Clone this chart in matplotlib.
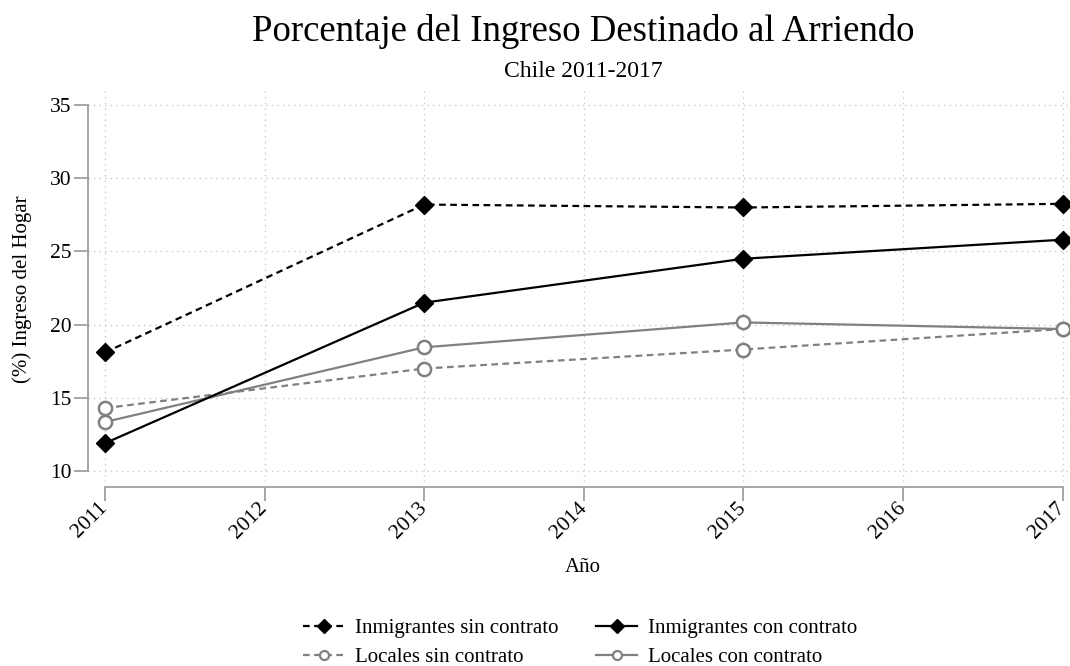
import numpy as np
import matplotlib.pyplot as plt
from matplotlib.lines import Line2D

plt.rcParams['font.family'] = ['Liberation Serif', 'DejaVu Serif']

# datos
anios = [2011, 2013, 2015, 2017]
inm_sin = [18.1, 28.2, 28.0, 28.25]
inm_con = [11.9, 21.5, 24.5, 25.8]
loc_sin = [14.3, 17.0, 18.3, 19.7]
loc_con = [13.35, 18.45, 20.15, 19.7]

gris = '#808080'
eje = '#a6a6a6'

fig = plt.figure(figsize=(10.7, 6.66), dpi=100)
ax = fig.add_axes([0.0822, 0.2688, 0.9168, 0.5955])

ax.plot(anios, inm_sin, color='black', ls=(0, (3, 2)), lw=1.6, marker='D', ms=9,
        clip_on=False, zorder=5)
ax.plot(anios, inm_con, color='black', ls='-', lw=1.6, marker='D', ms=9,
        clip_on=False, zorder=5)
ax.plot(anios, loc_sin, color=gris, ls=(0, (3, 2)), lw=1.6, marker='o', ms=9.5,
        mfc='white', mec=gris, mew=1.8, clip_on=False, zorder=4)
ax.plot(anios, loc_con, color=gris, ls='-', lw=1.6, marker='o', ms=9.5,
        mfc='white', mec=gris, mew=1.8, clip_on=False, zorder=4)

ax.set_xlim(2010.893, 2017.04)
ax.set_ylim(8.91, 36)
ax.set_xticks(range(2011, 2018))
ax.set_yticks([10, 15, 20, 25, 30, 35])
ax.spines['left'].set_bounds(10, 35)
ax.spines['bottom'].set_bounds(2011, 2017)
for s in ['top', 'right']:
    ax.spines[s].set_visible(False)
for s in ['left', 'bottom']:
    ax.spines[s].set_color(eje)
    ax.spines[s].set_linewidth(1.4)
ax.tick_params(axis='both', colors=eje, length=10, width=1.4, labelcolor='black',
               labelsize=15.5)
ax.tick_params(axis='y', pad=2)
ax.tick_params(axis='x', pad=3)
plt.setp(ax.get_xticklabels(), rotation=45, ha='right', va='center', rotation_mode='anchor')
ax.grid(True, color='#c8c8c8', ls=(0, (1, 3)), lw=1)
ax.set_axisbelow(True)

fig.text(0.545, 0.1486, 'Año', fontsize=15, ha='center', va='center')
fig.text(0.0206, 0.566, '(%) Ingreso del Hogar', fontsize=15, ha='center', va='center',
         rotation=90)

fig.text(0.545, 0.953, 'Porcentaje del Ingreso Destinado al Arriendo', fontsize=26.5,
         ha='center', va='center')
fig.text(0.545, 0.892, 'Chile 2011-2017', fontsize=17, ha='center', va='center')

handles = [
    Line2D([], [], color='black', ls=(0, (3, 2)), lw=1.6, marker='D', ms=7),
    Line2D([], [], color=gris, ls=(0, (3, 2)), lw=1.6, marker='o', ms=6.5,
           mfc='white', mec=gris, mew=1.6),
    Line2D([], [], color='black', ls='-', lw=1.6, marker='D', ms=7),
    Line2D([], [], color=gris, ls='-', lw=1.6, marker='o', ms=6.5,
           mfc='white', mec=gris, mew=1.6),
]
etiquetas = ['Inmigrantes sin contrato', 'Locales sin contrato',
             'Inmigrantes con contrato', 'Locales con contrato']
fig.legend(handles, etiquetas, ncol=2, loc='center', bbox_to_anchor=(0.542, 0.0345),
           frameon=False, fontsize=15, handlelength=2.0, handletextpad=0.5,
           columnspacing=1.8, labelspacing=0.45, borderpad=0)

fig.savefig('out.png', dpi=100)
